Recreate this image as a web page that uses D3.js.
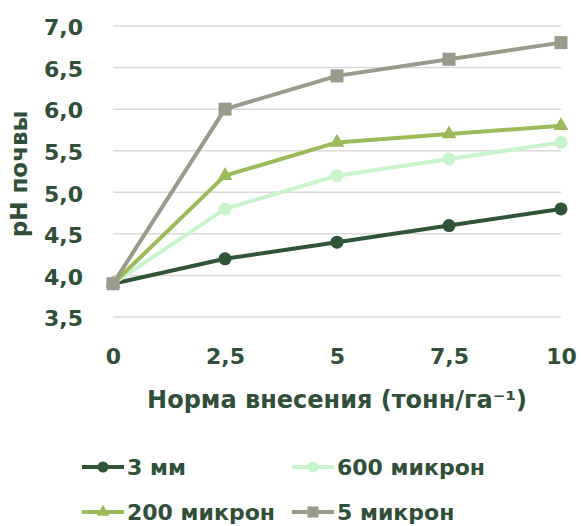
<!DOCTYPE html>
<html><head><meta charset="utf-8">
<script src="https://cdn.jsdelivr.net/npm/d3@7"></script>
<style>body{margin:0;background:#fff}svg{display:block}</style>
</head><body>
<script>
const xValues = [0, 2.5, 5, 7.5, 10];
const xTickLabels = ["0", "2,5", "5", "7,5", "10"];
const yTicks = [3.5, 4.0, 4.5, 5.0, 5.5, 6.0, 6.5, 7.0];
const seriesNames = ["3 мм", "600 микрон", "200 микрон", "5 микрон"];
const s3mm = [3.9, 4.2, 4.4, 4.6, 4.8];
const s600 = [3.9, 4.8, 5.2, 5.4, 5.6];
const s200 = [3.9, 5.2, 5.6, 5.7, 5.8];
const s5 = [3.9, 6.0, 6.4, 6.6, 6.8];
const xTitle = "Норма внесения (тонн/га⁻¹)";
const yTitle = "pH почвы";

const colors = ["#2e5536", "#c9f5cc", "#9bbb59", "#9a9a8a"];
const shapes = ["circle", "circle", "triangle", "square"];
const seriesData = [s3mm, s600, s200, s5];
const textColor = "#2f4f38";
const font = "'DejaVu Sans', sans-serif";

const W = 581, H = 526;
const svg = d3.select("body").append("svg").attr("width", W).attr("height", H);

const x = d3.scaleLinear().domain([0, 10]).range([113, 561]);
const y = d3.scaleLinear().domain([3.5, 7.0]).range([317, 26]);

// gridlines
svg.append("g").selectAll("line").data(yTicks).join("line")
  .attr("x1", x(0)).attr("x2", x(10))
  .attr("y1", d => y(d)).attr("y2", d => y(d))
  .attr("stroke", "#d9d9d9").attr("stroke-width", 1.5);

// y axis
const yAxis = d3.axisLeft(y).tickValues(yTicks).tickSize(0).tickPadding(0)
  .tickFormat(d => d3.format(".1f")(d).replace(".", ","));
const gy = svg.append("g").attr("transform", "translate(83,0)").call(yAxis);
gy.select(".domain").remove();
gy.selectAll("text").attr("fill", textColor).attr("font-family", font)
  .attr("font-weight", "bold").attr("font-size", 22).attr("dy", "0.4em");

// x axis
const xAxis = d3.axisBottom(x).tickValues(xValues).tickSize(0).tickPadding(0)
  .tickFormat((d, i) => xTickLabels[i]);
const gx = svg.append("g").attr("transform", "translate(0,356)").call(xAxis);
gx.select(".domain").remove();
gx.selectAll("text").attr("fill", textColor).attr("font-family", font)
  .attr("font-weight", "bold").attr("font-size", 22).attr("dy", "0.36em");

// titles
svg.append("text").attr("x", 337).attr("y", 408).attr("text-anchor", "middle")
  .attr("fill", textColor).attr("font-family", font).attr("font-weight", "bold")
  .attr("font-size", 24).text(xTitle);
svg.append("text").attr("transform", "translate(27,174) rotate(-90)")
  .attr("text-anchor", "middle")
  .attr("fill", textColor).attr("font-family", font).attr("font-weight", "bold")
  .attr("font-size", 23).text(yTitle);

function drawMarker(g, shape, cx, cy, color, scale) {
  scale = scale || 1;
  if (shape === "circle") {
    g.append("circle").attr("cx", cx).attr("cy", cy).attr("r", 6.5 * scale).attr("fill", color);
  } else if (shape === "square") {
    const s = 13 * scale;
    g.append("rect").attr("x", cx - s / 2).attr("y", cy - s / 2).attr("width", s).attr("height", s).attr("fill", color);
  } else {
    const sym = d3.symbol().type(d3.symbolTriangle).size(95 * scale * scale);
    g.append("path").attr("d", sym()).attr("transform", `translate(${cx},${cy})`).attr("fill", color);
  }
}

const line = d3.line().x((d, i) => x(xValues[i])).y(d => y(d));
seriesData.forEach((data, k) => {
  const g = svg.append("g");
  g.append("path").datum(data).attr("d", line).attr("fill", "none")
    .attr("stroke", colors[k]).attr("stroke-width", 4).attr("stroke-linejoin", "round");
  data.forEach((v, i) => drawMarker(g, shapes[k], x(xValues[i]), y(v), colors[k]));
});

// legend
const legendPos = [[82, 467], [292, 467], [82, 512], [292, 512]];
seriesNames.forEach((name, k) => {
  const [lx, ly] = legendPos[k];
  const g = svg.append("g");
  g.append("line").attr("x1", lx).attr("x2", lx + 42).attr("y1", ly).attr("y2", ly)
    .attr("stroke", colors[k]).attr("stroke-width", 4);
  drawMarker(g, shapes[k], lx + 21, ly, colors[k], 0.85);
  g.append("text").attr("x", lx + 45).attr("y", ly + 8)
    .attr("fill", textColor).attr("font-family", font).attr("font-weight", "bold")
    .attr("font-size", 22).text(name);
});
</script>
</body></html>
